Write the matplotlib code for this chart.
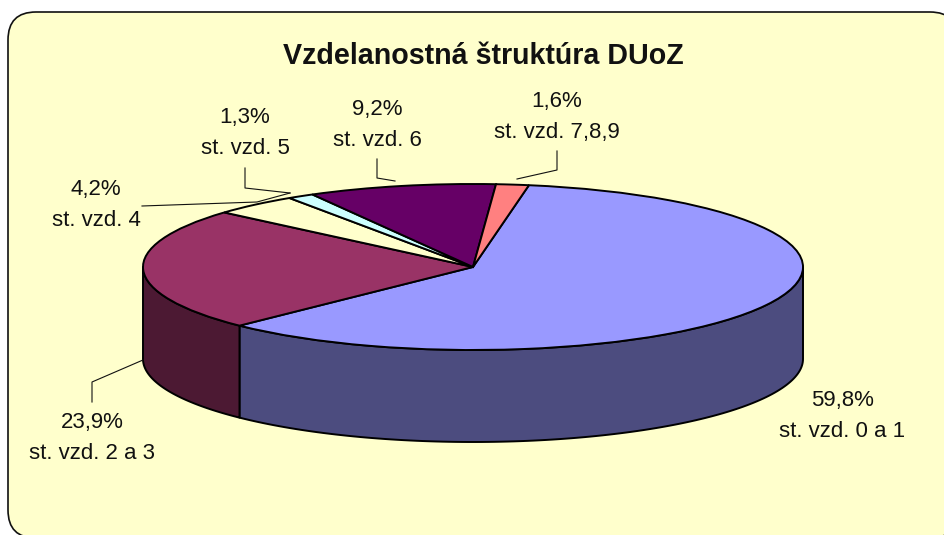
import numpy as np
import matplotlib
matplotlib.use("Agg")
import matplotlib.pyplot as plt
from matplotlib.patches import FancyBboxPatch, Polygon

plt.rcParams['font.family'] = ['Liberation Sans', 'DejaVu Sans']

categories = ["st. vzd. 0 a 1", "st. vzd. 2 a 3", "st. vzd. 4", "st. vzd. 5", "st. vzd. 6", "st. vzd. 7,8,9"]
values = [59.8, 23.9, 4.2, 1.3, 9.2, 1.6]
top_colors = ["#9999FF", "#993366", "#FFFFCC", "#CCFFFF", "#660066", "#FF8080"]
side_colors = ["#4C4C7F", "#4C1933", "#7F7F66", "#667F7F", "#330033", "#7F4040"]
title = "Vzdelanostná štruktúra DUoZ"

W, H = 944, 535
CX, CY, RX, RY, DEPTH = 473, 267, 330, 83, 92
START_CW = 9.76  # degrees clockwise from 12 o'clock

fig = plt.figure(figsize=(W / 100, H / 100), dpi=100, facecolor="white")

# background axes in pixel coordinates
bg = fig.add_axes([0, 0, 1, 1])
bg.set_xlim(0, W)
bg.set_ylim(H, 0)
bg.axis("off")
frame = FancyBboxPatch((8 + 28, 12 + 28), 958 - 8 - 56, 538 - 12 - 56,
                       boxstyle="round,pad=28,rounding_size=28",
                       facecolor="#FFFFCC", edgecolor="#111111", linewidth=1.2,
                       clip_on=True)
bg.add_patch(frame)

# pie axes: the unit circle is mapped to the ellipse
ax = fig.add_axes([(CX - RX) / W, 1 - (CY + RY) / H, 2 * RX / W, 2 * RY / H])
ax.patch.set_alpha(0)
d = DEPTH / RY

# side walls
edges = START_CW + np.concatenate([[0], np.cumsum(values)]) * 3.6
for i in range(len(values)):
    a0, a1 = max(edges[i], 90), min(edges[i + 1], 270)
    if a1 <= a0:
        continue
    t = np.radians(np.linspace(a0, a1, 120))
    x, y = np.sin(t), np.cos(t)
    pts = np.column_stack([np.r_[x, x[::-1]], np.r_[y, y[::-1] - d]])
    ax.add_patch(Polygon(pts, closed=True, facecolor=side_colors[i],
                         edgecolor="black", linewidth=1.4, clip_on=False,
                         joinstyle="round"))

ax.pie(values, colors=top_colors, startangle=90 - START_CW, counterclock=False,
       radius=1, wedgeprops=dict(edgecolor="black", linewidth=1.4, clip_on=False))
ax.set_aspect("auto")
ax.set_xlim(-1, 1)
ax.set_ylim(-1, 1)

# labels and leader lines (pixel coordinates)
label_pos = [(842, 416), (92, 438), (96, 205), (245, 133), (377, 125), (557, 117)]
leaders = [None,
           [(92, 402), (92, 382), (143, 360)],
           [(142, 206), (257, 202), (290, 193)],
           [(245, 168), (245, 188), (290, 193)],
           [(377, 159), (377, 178), (395, 181)],
           [(557, 151), (557, 170), (517, 179)]]
for cat, val, pos, lead in zip(categories, values, label_pos, leaders):
    txt = f"{val:.1f}%".replace(".", ",") + "\n" + cat
    fig.text(pos[0] / W, 1 - pos[1] / H, txt, ha="center", va="center",
             fontsize=16, linespacing=1.64, color="#111111", zorder=5)
    if lead:
        xs, ys = zip(*lead)
        fig.add_artist(plt.Line2D(np.array(xs) / W, 1 - np.array(ys) / H,
                                  color="#111111", linewidth=0.8, zorder=5))

fig.text(483 / W, 1 - 56 / H, title, ha="center", va="center",
         fontsize=20.6, fontweight="bold", color="#111111")

fig.savefig("out.png", dpi=100, facecolor="white")
